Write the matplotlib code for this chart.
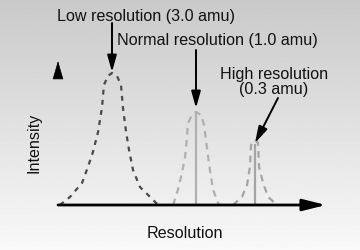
import numpy as np
import matplotlib.pyplot as plt

plt.rcParams['font.family'] = ['Liberation Sans', 'DejaVu Sans']

# peak profiles (x: resolution axis 0-100, y: relative intensity)
low_x = [0.7, 4.5, 9.0, 11.2, 13.1, 15.0, 16.5, 17.2, 18.7, 20.2,
         22.1, 23.6, 24.3, 25.5, 26.6, 28.1, 30.7, 34.5, 37.5]
low_y = [0, 6.1, 16.7, 28.8, 40.2, 55.3, 74.2, 90.9, 97.7, 100,
         97.7, 90.9, 74.2, 55.3, 41.7, 26.5, 13.6, 6.1, 0]

normal_x = [43.1, 44.9, 46.4, 47.6, 48.3, 48.7, 50.2, 51.7,
            53.6, 54.7, 55.8, 56.9, 58.1, 60.3]
normal_y = [0, 11.4, 24.2, 36.4, 51.5, 62.1, 68.2, 70.5,
            68.2, 60.6, 43.2, 26.5, 11.4, 0]

high_x = [65.5, 68.9, 70.8, 71.9, 72.3, 73.8, 74.9, 75.3, 76.8, 78.7, 82.0]
high_y = [0, 6.1, 15.2, 28.8, 45.5, 49.2, 47.0, 28.8, 16.7, 6.1, 0]

stick_x = [51.7, 73.8]
stick_y = [70.5, 46.0]

labels = ["Low resolution (3.0 amu)", "Normal resolution (1.0 amu)",
          "High resolution\n(0.3 amu)"]

# pixel <-> data mapping (axis origin at px (58, 205))
X0, XS = 58, 2.67
Y0, YS = 205, 1.32
W, H = 360, 250


def px(x, y):
    return ((x - X0) / XS, (Y0 - y) / YS)


fig = plt.figure(figsize=(3.6, 2.5), dpi=100)

# background gradient
bg = fig.add_axes([0, 0, 1, 1])
grad = np.linspace(0.79, 0.975, 256).reshape(-1, 1)
bg.imshow(grad, cmap='gray', vmin=0, vmax=1, aspect='auto', extent=[0, 1, 0, 1],
          origin='upper')
bg.set_axis_off()

ax = fig.add_axes([0, 0, 1, 1])
ax.patch.set_alpha(0)
ax.set_xlim(-X0 / XS, (W - X0) / XS)
ax.set_ylim(-(H - Y0) / YS, Y0 / YS)
ax.set_axis_off()

ax.plot(low_x, low_y, color='#4a4a4a', lw=1.6, ls=(0, (2.2, 2.4)))
ax.plot(normal_x, normal_y, color='#b0b0b0', lw=1.6, ls=(0, (3, 2.4)))
ax.plot(high_x, high_y, color='#a4a4a4', lw=1.6, ls=(0, (3, 2.4)))
ax.vlines(stick_x, 0, stick_y, colors=['#b0b0b0', '#a4a4a4'], lw=1.6)

# x axis with arrow
ax.annotate('', xy=px(326, 205), xytext=px(58, 205),
            arrowprops=dict(arrowstyle='-|>,head_length=1.4,head_width=0.35',
                            color='black', lw=2, shrinkA=0, shrinkB=0))
# y axis arrowhead only
ax.annotate('', xy=px(58, 61), xytext=px(58, 68),
            arrowprops=dict(arrowstyle='-|>,head_length=1.2,head_width=0.35',
                            color='black', lw=0.5, shrinkA=0, shrinkB=0))

arw = dict(arrowstyle='-|>,head_length=1.0,head_width=0.28', color='black',
           lw=1.4, shrinkA=0, shrinkB=0)
ax.annotate('', xy=px(112, 72), xytext=px(112, 23), arrowprops=arw)
ax.annotate('', xy=px(196, 108), xytext=px(196, 50), arrowprops=arw)
ax.annotate('', xy=px(255, 143), xytext=px(278, 98), arrowprops=arw)

fs = 11.6
tc = '#111111'
ax.text(*px(57, 21), labels[0], fontsize=fs, color=tc, ha='left', va='baseline')
ax.text(*px(117, 45), labels[1], fontsize=fs, color=tc, ha='left', va='baseline')
ax.text(*px(274, 94), labels[2], fontsize=fs, color=tc, ha='center',
        va='baseline', linespacing=1.0, multialignment='center')
ax.text(*px(185, 238), "Resolution", fontsize=fs, color=tc, ha='center',
        va='baseline')
ax.text(*px(34, 143), "Intensity", fontsize=fs, color=tc, ha='center',
        va='center', rotation=90)

fig.savefig('out.png', dpi=100)
